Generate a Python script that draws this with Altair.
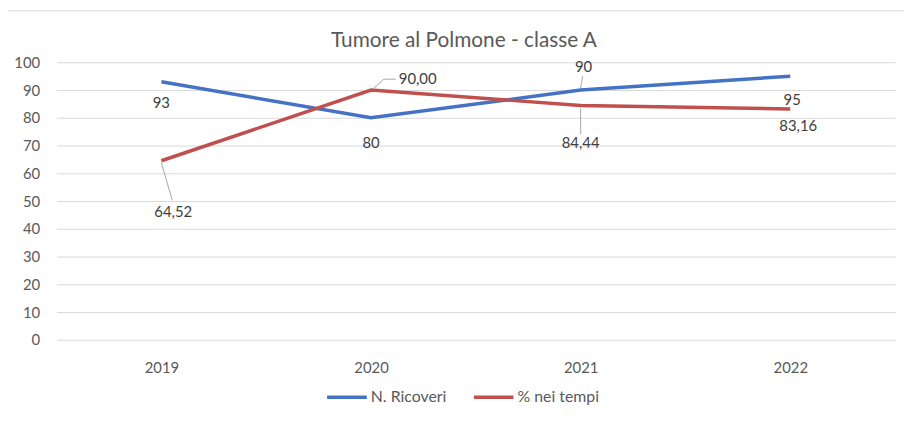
import altair as alt
import pandas as pd

# ---- data ----
years = ["2019", "2020", "2021", "2022"]
series_names = ["N. Ricoveri", "% nei tempi"]
ricoveri = [93, 80, 90, 95]
perc_tempi = [64.52, 90.00, 84.44, 83.16]
labels_ricoveri = ["93", "80", "90", "95"]
labels_perc = ["64,52", "90,00", "84,44", "83,16"]
y_ticks = [0, 10, 20, 30, 40, 50, 60, 70, 80, 90, 100]
title_text = "Tumore al Polmone - classe A"

rows = []
for y, v, l in zip(years, ricoveri, labels_ricoveri):
    rows.append({"year": y, "serie": series_names[0], "value": v, "label": l})
for y, v, l in zip(years, perc_tempi, labels_perc):
    rows.append({"year": y, "serie": series_names[1], "value": v, "label": l})
df = pd.DataFrame(rows)

FONT = "Lato"
BLUE = "#4472C4"
RED = "#C0504D"
GRID = "#d9d9d9"
AXIS_TXT = "#595959"
LBL_TXT = "#404040"
FS = 15

x_enc = alt.X(
    "year:N",
    scale=alt.Scale(type="point", padding=0.5),
    axis=alt.Axis(title=None, labelAngle=0, ticks=False, domain=False, grid=False,
                  labelPadding=21, labelFontSize=FS, labelColor=AXIS_TXT, labelFont=FONT),
)
y_enc = alt.Y(
    "value:Q",
    scale=alt.Scale(domain=[0, 100], nice=False),
    axis=alt.Axis(title=None, values=y_ticks, ticks=False, domain=False, grid=True,
                  gridColor=GRID, gridWidth=1, labelPadding=17, labelFontSize=FS,
                  labelColor=AXIS_TXT, labelFont=FONT),
)

base = alt.Chart(df)

frame = (
    base.transform_filter((alt.datum.serie == series_names[0]) & (alt.datum.year == years[0]))
    .mark_rect(fillOpacity=0, stroke=GRID, strokeWidth=1)
    .encode(x=alt.value(-51), x2=alt.value(870), y=alt.value(-52), y2=alt.value(359))
)

lines = base.mark_line(strokeWidth=3.5).encode(
    x=x_enc,
    y=y_enc,
    color=alt.Color(
        "serie:N",
        scale=alt.Scale(domain=series_names, range=[BLUE, RED]),
        legend=alt.Legend(
            title=None, orient="none", direction="horizontal",
            legendX=271, legendY=316,
            symbolType="stroke", symbolSize=1600, symbolStrokeWidth=3.5,
            labelFontSize=16, labelColor=AXIS_TXT, labelFont=FONT,
            labelOffset=2, columnPadding=20,
        ),
    ),
    detail="serie:N",
)

# label placement (style): (dx, dy, align)
label_pos = {
    (series_names[0], "2019"): (0, 22, "center"),
    (series_names[0], "2020"): (0, 25, "center"),
    (series_names[0], "2021"): (3, -23, "center"),
    (series_names[0], "2022"): (2, 24, "center"),
    (series_names[1], "2019"): (12, 52, "center"),
    (series_names[1], "2020"): (28, -11, "left"),
    (series_names[1], "2021"): (0, 38, "center"),
    (series_names[1], "2022"): (8, 17, "center"),
}

label_layers = []
for (s, yr), (dx, dy, al) in label_pos.items():
    label_layers.append(
        base.transform_filter((alt.datum.serie == s) & (alt.datum.year == yr))
        .mark_text(dx=dx, dy=dy, align=al, baseline="middle", fontSize=FS,
                   font=FONT, color=LBL_TXT)
        .encode(x=x_enc, y=y_enc, text="label:N")
    )

# leader lines (style): (xOffset, yOffset, x2Offset, y2Offset)
leader_pos = {
    (series_names[0], "2021"): (0, -2, 2, -14),
    (series_names[1], "2019"): (0, 2, 11, 40),
    (series_names[1], "2020"): (3, -2, 13, -11),
    (series_names[1], "2021"): (0, 3, 0, 29),
}
leader_layers = []
for (s, yr), (xo, yo, x2o, y2o) in leader_pos.items():
    leader_layers.append(
        base.transform_filter((alt.datum.serie == s) & (alt.datum.year == yr))
        .mark_rule(color="#a6a6a6", strokeWidth=1, xOffset=xo, yOffset=yo,
                   x2Offset=x2o, y2Offset=y2o)
        .encode(x=x_enc, y=y_enc, x2=alt.X2("year"), y2=alt.Y2("value"))
    )
leader_layers.append(
    base.transform_filter((alt.datum.serie == series_names[1]) & (alt.datum.year == "2020"))
    .mark_rule(color="#a6a6a6", strokeWidth=1, xOffset=13, yOffset=-11,
               x2Offset=25, y2Offset=-11)
    .encode(x=x_enc, y=y_enc, x2=alt.X2("year"), y2=alt.Y2("value"))
)

chart = alt.layer(frame, lines, *leader_layers, *label_layers).properties(
    width=846,
    height=280,
    background="white",
    autosize=alt.AutoSizeParams(type="none"),
    padding={"left": 49, "top": 53, "right": 9, "bottom": 66},
    title=alt.TitleParams(title_text, fontSize=21, font=FONT, color=AXIS_TXT,
                          fontWeight="normal", anchor="middle", dx=-12, offset=-41,
                          frame="group"),
).configure_view(strokeWidth=0)

chart.save("out.html", embed_options={"renderer": "svg", "actions": False})
